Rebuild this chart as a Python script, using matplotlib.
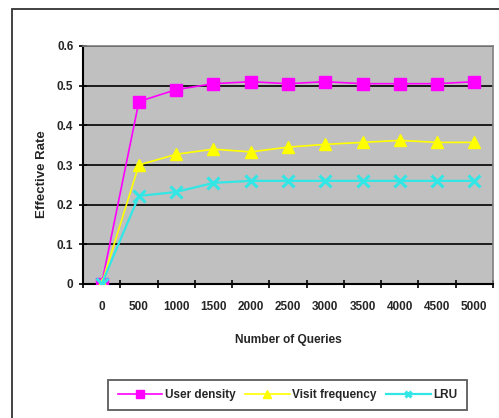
import matplotlib
matplotlib.use("Agg")
import matplotlib.pyplot as plt
from matplotlib.patches import Rectangle
from matplotlib.ticker import FixedLocator

categories = ["0", "500", "1000", "1500", "2000", "2500", "3000", "3500", "4000", "4500", "5000"]
user_density = [0, 0.46, 0.49, 0.505, 0.51, 0.505, 0.51, 0.505, 0.505, 0.505, 0.51]
visit_frequency = [0, 0.30, 0.327, 0.34, 0.333, 0.345, 0.352, 0.357, 0.362, 0.357, 0.357]
lru = [0, 0.222, 0.232, 0.255, 0.26, 0.26, 0.26, 0.26, 0.26, 0.26, 0.26]
y_ticks = [0, 0.1, 0.2, 0.3, 0.4, 0.5, 0.6]
y_tick_labels = ["0", "0.1", "0.2", "0.3", "0.4", "0.5", "0.6"]

plt.rcParams['font.family'] = ['Liberation Sans', 'DejaVu Sans']

fig = plt.figure(figsize=(4.99, 4.18), dpi=100)
fig.patches.append(Rectangle((12/499, -0.1), 1.2, 1.1 - 9/418, transform=fig.transFigure,
                             fill=False, edgecolor='#333333', linewidth=1.3, zorder=0))
ax = fig.add_axes([83/499, 1 - 284/418, 410/499, 238/418])
ax.set_facecolor('#c0c0c0')

x = list(range(len(categories)))
ax.plot(x, user_density, color='#ff00ff', marker='s', markersize=9, linewidth=1.2,
        label='User density', zorder=3)
ax.plot(x, visit_frequency, color='#ffff00', marker='^', markersize=9, linewidth=1.2,
        label='Visit frequency', zorder=3)
ax.plot(x, lru, color='#33e6e6', marker='x', markersize=8, markeredgewidth=2.2, linewidth=1.6,
        label='LRU', zorder=3)

tick_color = '#262626'
ax.set_xlim(-0.5, len(categories) - 0.5)
ax.set_ylim(0, 0.6)
ax.set_yticks(y_ticks)
ax.set_yticklabels(y_tick_labels, fontsize=8.5, fontweight='bold', color=tick_color)
ax.set_xticks(x)
ax.set_xticklabels(categories, fontsize=8.5, fontweight='bold', color=tick_color)
ax.xaxis.set_minor_locator(FixedLocator([i - 0.5 for i in range(len(categories) + 1)]))
ax.tick_params(axis='x', which='major', length=0, pad=12)
ax.tick_params(axis='x', which='minor', length=6, direction='inout', width=1.2)
ax.tick_params(axis='y', which='major', length=6, direction='inout', width=1.2, pad=4)

ax.grid(axis='y', color='black', linewidth=1.2, zorder=1)
ax.set_axisbelow(True)
for s in ['top', 'right']:
    ax.spines[s].set_color('#808080')
    ax.spines[s].set_linewidth(1.2)
for s in ['left', 'bottom']:
    ax.spines[s].set_color('black')
    ax.spines[s].set_linewidth(1.5)

ax.set_xlabel('Number of Queries', fontsize=8.6, fontweight='bold', labelpad=15, color=tick_color)
ax.set_ylabel('Effective Rate', fontsize=9.5, fontweight='bold', labelpad=6, color=tick_color)
ax.yaxis.set_label_coords(-0.085, 0.46)

leg = fig.legend(loc='center', bbox_to_anchor=(0.576, 1 - 395/418), ncol=3,
                 frameon=True, fancybox=False, edgecolor='#333333', handlelength=3.8,
                 markerscale=0.6, columnspacing=0.8, handletextpad=0.2, borderpad=0.8,
                 prop={'weight': 'bold', 'size': 8.5})
leg.get_frame().set_linewidth(1.3)
for t in leg.get_texts():
    t.set_color(tick_color)

fig.savefig('out.png', dpi=100)
